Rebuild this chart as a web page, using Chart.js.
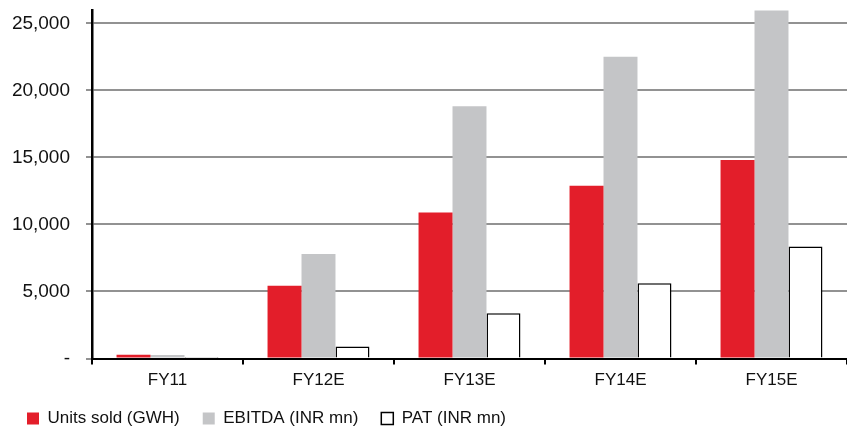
<!DOCTYPE html>
<html>
<head>
<meta charset="utf-8">
<script src="https://cdn.jsdelivr.net/npm/chart.js@4"></script>
<style>
  html, body { margin: 0; padding: 0; background: #fff; }
  #wrap { width: 847px; height: 428px; }
</style>
</head>
<body>
<div id="wrap"><canvas id="myChart" width="847" height="428"></canvas></div>
<script>
// data
let years = ["FY11", "FY12E", "FY13E", "FY14E", "FY15E"];
let unitsSold = [280, 5420, 10900, 12890, 14810];
let ebitda = [260, 7790, 18820, 22510, 25970];
let pat = [110, 900, 3380, 5620, 8360];
let yTicks = [0, 5000, 10000, 15000, 20000, 25000];

Chart.defaults.font.family = "'Liberation Sans', Arial, sans-serif";
Chart.defaults.color = "#111";

let canva = document.getElementById("myChart").getContext("2d");
new Chart(canva, {
  type: "bar",
  data: {
    labels: years,
    datasets: [
      {
        label: "Units sold (GWH)",
        data: unitsSold,
        backgroundColor: "#E31E2A",
        borderWidth: 0
      },
      {
        label: "EBITDA (INR mn)",
        data: ebitda,
        backgroundColor: "#C4C5C7",
        borderWidth: 0
      },
      {
        label: "PAT (INR mn)",
        data: pat,
        backgroundColor: "#ffffff",
        borderColor: "#000000",
        borderWidth: 1.5
      }
    ]
  },
  options: {
    responsive: false,
    animation: false,
    layout: { padding: { top: 10, right: 0, left: 4, bottom: 0 } },
    datasets: {
      bar: { categoryPercentage: 0.675, barPercentage: 1 }
    },
    plugins: {
      legend: {
        position: "bottom",
        align: "start",
        maxHeight: 41,
        labels: {
          boxWidth: 12,
          boxHeight: 12,
          padding: 23,
          font: { size: 17 },
          color: "#111"
        }
      },
      tooltip: { enabled: false }
    },
    scales: {
      x: {
        afterFit: function (scale) { scale.height = 28.5; },
        grid: {
          drawOnChartArea: false,
          color: "#000",
          tickLength: 6,
          lineWidth: 2,
          offset: true
        },
        border: { color: "#000", width: 2 },
        ticks: { font: { size: 17 }, color: "#111", padding: 6 }
      },
      y: {
        min: 0,
        max: 26000,
        afterBuildTicks: function (scale) {
          scale.ticks = yTicks.map(function (v) { return { value: v }; });
        },
        afterFit: function (scale) {
          scale.width = 88;
          scale.paddingTop = 0;
          scale.paddingBottom = 0;
        },
        grid: {
          color: "#929292",
          lineWidth: 2,
          tickLength: 6
        },
        border: { color: "#000", width: 2.5 },
        ticks: {
          padding: 16,
          font: { size: 19 },
          color: "#111",
          callback: function (v) { return v === 0 ? "-" : v.toLocaleString("en-US"); }
        }
      }
    }
  }
});
</script>
</body>
</html>
